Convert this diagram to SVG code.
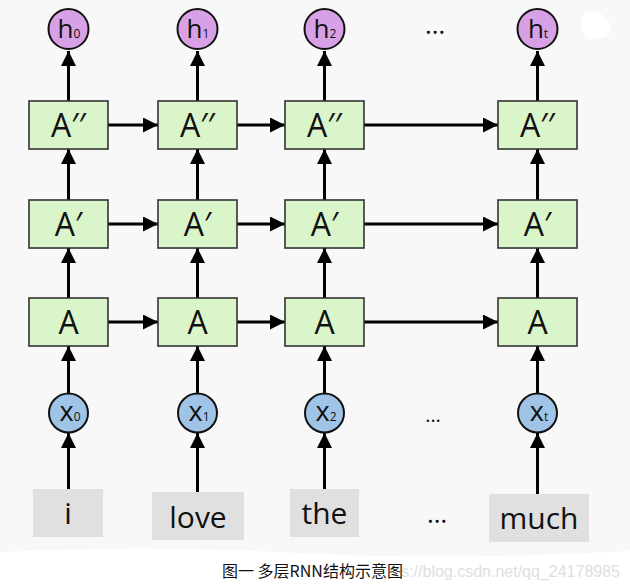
<svg xmlns="http://www.w3.org/2000/svg" width="630" height="588" viewBox="0 0 630 588">
<defs>
<style>
.box{fill:#dbf5cb;stroke:#333;stroke-width:1.6}
.word{fill:#e0e0e0}
.h{fill:#d8a1e6;stroke:#111;stroke-width:2}
.x{fill:#9fc4e7;stroke:#111;stroke-width:2}
.lbl{font-family:"Open Sans","Liberation Sans",sans-serif;fill:#111;text-anchor:middle}
.conn line{stroke:#000;stroke-width:3;marker-end:url(#ah)}
.dots{font-family:"Open Sans","Liberation Sans",sans-serif;fill:#111;text-anchor:middle}
</style>
<marker id="ah" markerUnits="userSpaceOnUse" markerWidth="16" markerHeight="16" refX="15" refY="7.5" orient="auto">
<path d="M0,0 L15,7.5 L0,15 z" fill="#000"/>
</marker>
</defs>
<rect width="630" height="588" fill="#f8f8f8"/>
<path d="M0,552 Q150,545 300,553 T630,551 L630,588 L0,588 z" fill="#ffffff"/>
<path d="M584,14 Q596,8 604,16 Q612,22 610,32 Q606,40 596,38 Q588,42 584,34 Q578,24 584,14 z" fill="#ffffff"/>

<g class="conn">
<line x1="68.5" y1="101" x2="68.5" y2="51"/>
<line x1="197.5" y1="101" x2="197.5" y2="51"/>
<line x1="324.5" y1="101" x2="324.5" y2="51"/>
<line x1="537.5" y1="101" x2="537.5" y2="51"/>
<line x1="68.5" y1="200" x2="68.5" y2="149"/>
<line x1="197.5" y1="200" x2="197.5" y2="149"/>
<line x1="324.5" y1="200" x2="324.5" y2="149"/>
<line x1="537.5" y1="200" x2="537.5" y2="149"/>
<line x1="68.5" y1="298" x2="68.5" y2="248"/>
<line x1="197.5" y1="298" x2="197.5" y2="248"/>
<line x1="324.5" y1="298" x2="324.5" y2="248"/>
<line x1="537.5" y1="298" x2="537.5" y2="248"/>
<line x1="68.5" y1="394" x2="68.5" y2="346"/>
<line x1="197.5" y1="394" x2="197.5" y2="346"/>
<line x1="324.5" y1="394" x2="324.5" y2="346"/>
<line x1="537.5" y1="394" x2="537.5" y2="346"/>
<line x1="68.5" y1="489" x2="68.5" y2="433"/>
<line x1="197.5" y1="492" x2="197.5" y2="433"/>
<line x1="324.5" y1="489" x2="324.5" y2="433"/>
<line x1="537.5" y1="494" x2="537.5" y2="433"/>
<line x1="108" y1="125" x2="158" y2="125"/>
<line x1="237" y1="125" x2="285" y2="125"/>
<line x1="364" y1="125" x2="498" y2="125"/>
<line x1="108" y1="224" x2="158" y2="224"/>
<line x1="237" y1="224" x2="285" y2="224"/>
<line x1="364" y1="224" x2="498" y2="224"/>
<line x1="108" y1="322" x2="158" y2="322"/>
<line x1="237" y1="322" x2="285" y2="322"/>
<line x1="364" y1="322" x2="498" y2="322"/>
</g>

<g id="h0"><circle class="h" cx="68.5" cy="29" r="20"/><text class="lbl" x="69" y="38" font-size="26">h<tspan font-size="12">0</tspan></text></g>
<g id="h1"><circle class="h" cx="197.5" cy="29" r="20"/><text class="lbl" x="198" y="38" font-size="26">h<tspan font-size="12">1</tspan></text></g>
<g id="h2"><circle class="h" cx="324.5" cy="29" r="20"/><text class="lbl" x="325" y="38" font-size="26">h<tspan font-size="12">2</tspan></text></g>
<g id="ht"><circle class="h" cx="537.5" cy="29" r="20"/><text class="lbl" x="538" y="38" font-size="26">h<tspan font-size="12">t</tspan></text></g>

<g id="A2_0"><rect class="box" x="29" y="101" width="79" height="48"/><text class="lbl" x="68.5" y="137" font-size="32">A′′</text></g>
<g id="A2_1"><rect class="box" x="158" y="101" width="79" height="48"/><text class="lbl" x="197.5" y="137" font-size="32">A′′</text></g>
<g id="A2_2"><rect class="box" x="285" y="101" width="79" height="48"/><text class="lbl" x="324.5" y="137" font-size="32">A′′</text></g>
<g id="A2_t"><rect class="box" x="498" y="101" width="79" height="48"/><text class="lbl" x="537.5" y="137" font-size="32">A′′</text></g>

<g id="A1_0"><rect class="box" x="29" y="200" width="79" height="48"/><text class="lbl" x="68.5" y="236" font-size="32">A′</text></g>
<g id="A1_1"><rect class="box" x="158" y="200" width="79" height="48"/><text class="lbl" x="197.5" y="236" font-size="32">A′</text></g>
<g id="A1_2"><rect class="box" x="285" y="200" width="79" height="48"/><text class="lbl" x="324.5" y="236" font-size="32">A′</text></g>
<g id="A1_t"><rect class="box" x="498" y="200" width="79" height="48"/><text class="lbl" x="537.5" y="236" font-size="32">A′</text></g>

<g id="A0_0"><rect class="box" x="29" y="298" width="79" height="48"/><text class="lbl" x="68.5" y="334" font-size="32">A</text></g>
<g id="A0_1"><rect class="box" x="158" y="298" width="79" height="48"/><text class="lbl" x="197.5" y="334" font-size="32">A</text></g>
<g id="A0_2"><rect class="box" x="285" y="298" width="79" height="48"/><text class="lbl" x="324.5" y="334" font-size="32">A</text></g>
<g id="A0_t"><rect class="box" x="498" y="298" width="79" height="48"/><text class="lbl" x="537.5" y="334" font-size="32">A</text></g>

<g id="x0"><circle class="x" cx="68.5" cy="413" r="19.5"/><text class="lbl" x="70" y="421" font-size="27">x<tspan font-size="12">0</tspan></text></g>
<g id="x1"><circle class="x" cx="197.5" cy="413" r="19.5"/><text class="lbl" x="199" y="421" font-size="27">x<tspan font-size="12">1</tspan></text></g>
<g id="x2"><circle class="x" cx="324.5" cy="413" r="19.5"/><text class="lbl" x="326" y="421" font-size="27">x<tspan font-size="12">2</tspan></text></g>
<g id="xt"><circle class="x" cx="537.5" cy="413" r="19.5"/><text class="lbl" x="539" y="421" font-size="27">x<tspan font-size="12">t</tspan></text></g>

<g id="w_i"><rect class="word" x="33" y="489" width="70" height="48"/><text class="lbl" x="68" y="524" font-size="30">i</text></g>
<g id="w_love"><rect class="word" x="152" y="492" width="92" height="48"/><text class="lbl" x="198" y="528" font-size="30">love</text></g>
<g id="w_the"><rect class="word" x="290" y="489" width="69" height="48"/><text class="lbl" x="324.5" y="524" font-size="30">the</text></g>
<g id="w_much"><rect class="word" x="489" y="494" width="100" height="48"/><text class="lbl" x="539" y="529" font-size="30">much</text></g>

<text class="dots" x="435" y="34" font-size="26">…</text>
<text class="dots" x="433" y="422" font-size="20">…</text>
<text class="dots" x="437" y="523" font-size="26">…</text>

<text x="620" y="577" font-family="'Liberation Sans',Arial,sans-serif" font-size="16" fill="#dedede" text-anchor="end">s://blog.csdn.net/qq_24178985</text>
<text x="222" y="577" font-family="'Noto Sans CJK SC','Liberation Sans',sans-serif" font-size="16" fill="#111">图一 多层RNN结构示意图</text>
</svg>
